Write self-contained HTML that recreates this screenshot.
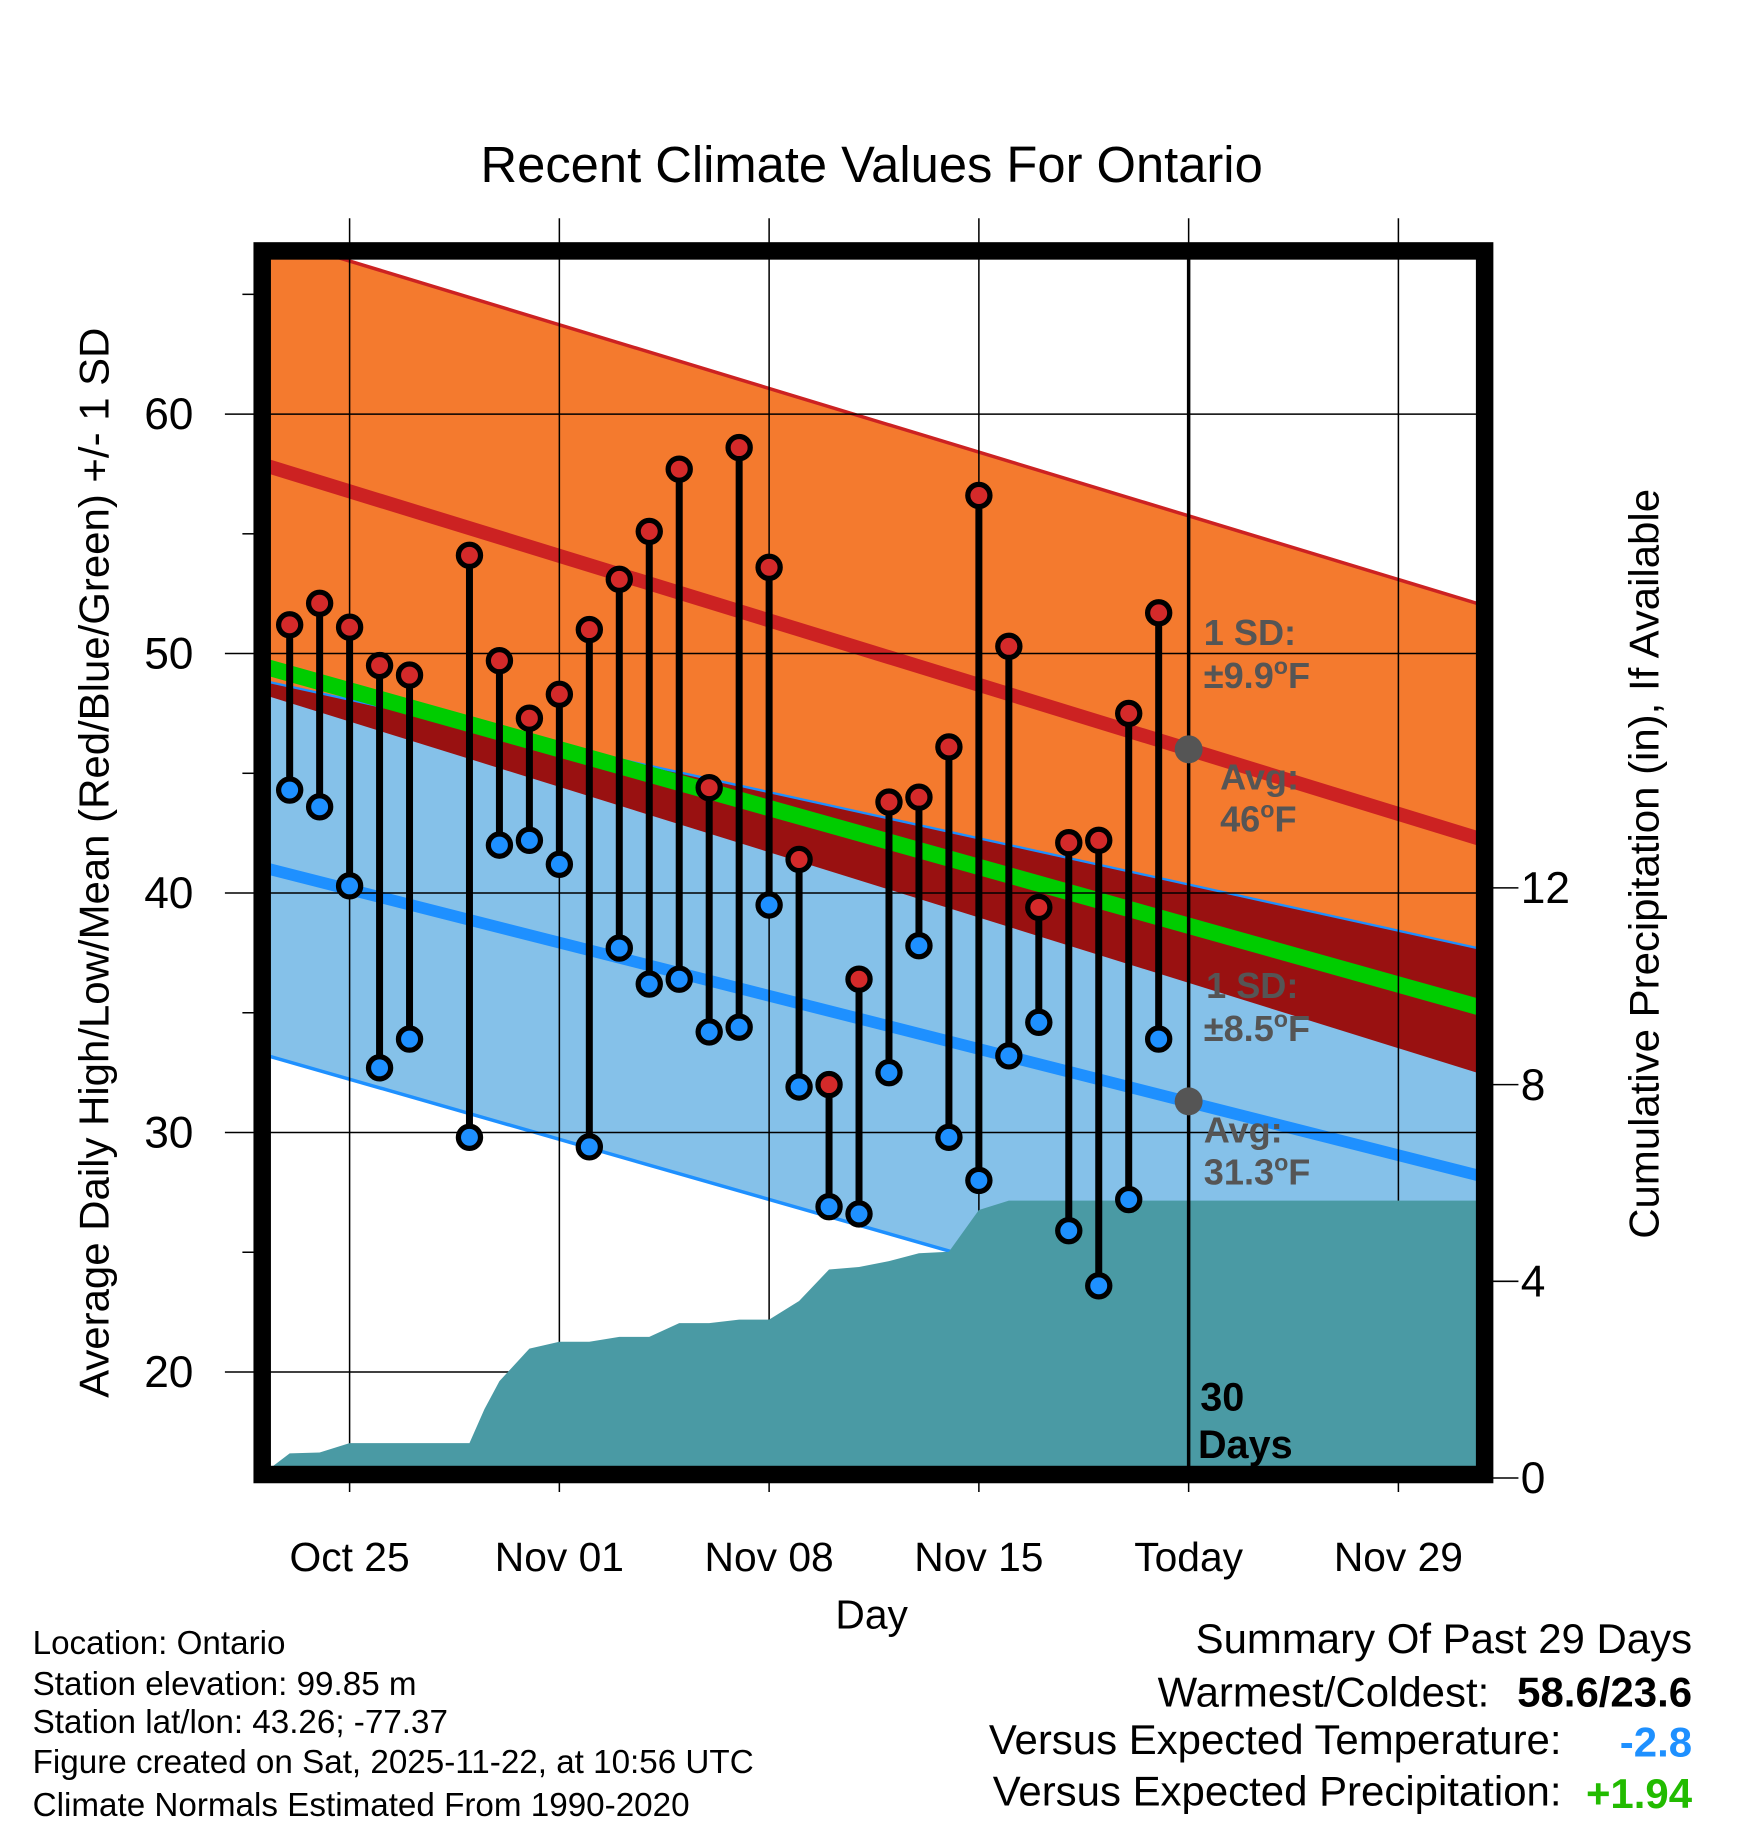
<!DOCTYPE html>
<html><head><meta charset="utf-8"><style>
html,body{margin:0;padding:0;background:#fff;}
svg{display:block;font-family:"Liberation Sans",sans-serif;}
</style></head><body>
<svg id="chart" width="1748" height="1828" viewBox="0 0 1500 1568" xmlns="http://www.w3.org/2000/svg">
<defs><clipPath id="plotclip"><rect x="232" y="222" width="1036" height="1038"/></clipPath></defs>
<text x="748" y="156" font-size="43.5" text-anchor="middle">Recent Climate Values For Ontario</text>
<g id="bands" clip-path="url(#plotclip)"></g>
<g id="grid"></g>
<g id="precip" clip-path="url(#plotclip)"></g>
<g id="marks"></g>
<g id="axes"></g>
<rect x="225" y="215" width="1049" height="1050" fill="none" stroke="#000" stroke-width="15"/>
<g font-weight="bold" font-size="31" fill="#555">
<text x="1033" y="553">1 SD:</text><text x="1033" y="590">±9.9<tspan dy="-12" font-size="20">o</tspan><tspan dy="12">F</tspan></text>
<text x="1047" y="677">Avg:</text><text x="1047" y="713">46<tspan dy="-12" font-size="20">o</tspan><tspan dy="12">F</tspan></text>
<text x="1035" y="856">1 SD:</text><text x="1033" y="893">±8.5<tspan dy="-12" font-size="20">o</tspan><tspan dy="12">F</tspan></text>
<text x="1033" y="980">Avg:</text><text x="1033" y="1016">31.3<tspan dy="-12" font-size="20">o</tspan><tspan dy="12">F</tspan></text>
<text x="1030" y="1210" fill="#000" font-size="34">30</text><text x="1028" y="1251" fill="#000" font-size="34">Days</text>
</g>
<text x="748" y="1397" font-size="35" text-anchor="middle">Day</text>
<text transform="translate(93,740) rotate(-90)" font-size="36" text-anchor="middle">Average Daily High/Low/Mean (Red/Blue/Green) +/- 1 SD</text>
<text transform="translate(1423,741) rotate(-90)" font-size="36" text-anchor="middle">Cumulative Precipitation (in), If Available</text>
<g font-size="28.5">
<text x="28" y="1419">Location: Ontario</text>
<text x="28" y="1454">Station elevation: 99.85 m</text>
<text x="28" y="1487">Station lat/lon: 43.26; -77.37</text>
<text x="28" y="1521">Figure created on Sat, 2025-11-22, at 10:56 UTC</text>
<text x="28" y="1558">Climate Normals Estimated From 1990-2020</text>
</g>
<g font-size="36" text-anchor="end">
<text x="1452" y="1418">Summary Of Past 29 Days</text>
<text x="1278" y="1464">Warmest/Coldest:</text><text x="1452" y="1464" font-weight="bold">58.6/23.6</text>
<text x="1340" y="1505">Versus Expected Temperature:</text><text x="1452" y="1507" font-weight="bold" fill="#1e90ff">-2.8</text>
<text x="1340" y="1549">Versus Expected Precipitation:</text><text x="1452" y="1551" font-weight="bold" fill="#22bb00">+1.94</text>
</g>
</svg>
<script>
// day index: 0 = Oct 25, 28 = Today (Nov 22)
const days = [-2,-1,0,1,2,4,5,6,7,8,9,10,11,12,13,14,15,16,17,18,19,20,21,22,23,24,25,26,27];
const highs = [51.2,52.1,51.1,49.5,49.1,54.1,49.7,47.3,48.3,51.0,53.1,55.1,57.7,44.4,58.6,53.6,41.4,32.0,36.4,43.8,44.0,46.1,56.6,50.3,39.4,42.1,42.2,47.5,51.7];
const lows = [44.3,43.6,40.3,32.7,33.9,29.8,42.0,42.2,41.2,29.4,37.7,36.2,36.4,34.2,34.4,39.5,31.9,26.9,26.6,32.5,37.8,29.8,28.0,33.2,34.6,25.9,23.6,27.2,33.9];
const precipDays = [-2.67,-2,-1,0,1,2,3,4,4.5,5,6,7,8,9,10,11,12,13,14,15,16,17,18,19,20,21,22,38];
const precipVals = [0.19,0.5,0.52,0.71,0.71,0.71,0.71,0.71,1.4,1.97,2.63,2.77,2.77,2.87,2.87,3.15,3.15,3.22,3.22,3.6,4.24,4.29,4.41,4.57,4.6,5.45,5.64,5.64];
const normDays = [-3,38];
const normHigh = [57.93,42.15];
const normHighSD = [9.6,9.8];
const normLow = [41.1,28.1];
const normLowSD = [7.8,9.5];
const xTickDays = [0,7,14,21,28,35];
const xTickLabels = ["Oct 25","Nov 01","Nov 08","Nov 15","Today","Nov 29"];
const yTicks = [20,30,40,50,60];
const yMinor = [25,35,45,55,65];
const pTicks = [0,4,8,12];
const todayDay = 28;
const todayHigh = 46, todayLow = 31.3;

const NS="http://www.w3.org/2000/svg";
const X = d => 300 + d*180/7;
const Y = v => 355 - (v-60)*20.55;
const P = p => 1268 - p*42.2;
function mk(tag, attrs, parent){const e=document.createElementNS(NS,tag);for(const k in attrs)e.setAttribute(k,attrs[k]);parent.appendChild(e);return e;}
const interp=(arr,d)=>arr[0]+(arr[1]-arr[0])*(d-normDays[0])/(normDays[1]-normDays[0]);
const bands=document.getElementById('bands'),grid=document.getElementById('grid'),prec=document.getElementById('precip'),marks=document.getElementById('marks'),axes=document.getElementById('axes');
const d0=normDays[0], d1=normDays[1];
const hiTop=d=>interp(normHigh,d)+interp(normHighSD,d), hiBot=d=>interp(normHigh,d)-interp(normHighSD,d);
const loTop=d=>interp(normLow,d)+interp(normLowSD,d), loBot=d=>interp(normLow,d)-interp(normLowSD,d);
const mean=d=>(interp(normHigh,d)+interp(normLow,d))/2;
function band(f,g,fill,name){const e=mk('polygon',{points:`${X(d0)},${Y(f(d0))} ${X(d1)},${Y(f(d1))} ${X(d1)},${Y(g(d1))} ${X(d0)},${Y(g(d0))}`,fill:fill},bands);

}
band(hiTop,hiBot,'#f47a2e','high-sd-band');
band(loTop,loBot,'#85c1e9','low-sd-band');
band(loTop,hiBot,'#991111','overlap-band');
function line(f,color,w,name){const e=mk('line',{x1:X(d0),y1:Y(f(d0)),x2:X(d1),y2:Y(f(d1)),stroke:color,'stroke-width':w},bands);

}
line(hiTop,'#cc2222',3,'high-sd-upper-line');
line(loTop,'#1e90ff',2,'low-sd-upper-line');
line(loBot,'#1e90ff',3,'low-sd-lower-line');
line(mean,'#00cc00',14,'normal-mean-line');
line(d=>interp(normHigh,d),'#cc2222',12,'normal-high-line');
line(d=>interp(normLow,d),'#1e90ff',10,'normal-low-line');
// grid
xTickDays.forEach((d,i)=>{const g=mk('line',{x1:X(d),y1:187,x2:X(d),y2:1280,stroke:'#000','stroke-width':1.3},grid);


const t=mk('text',{x:X(d),y:1348,'font-size':35,'text-anchor':'middle'},axes);t.textContent=xTickLabels[i];

});
yTicks.forEach(v=>{const g=mk('line',{x1:193,y1:Y(v),x2:1268,y2:Y(v),stroke:'#000','stroke-width':1.3},grid);


const t=mk('text',{x:166,y:Y(v)+13,'font-size':38,'text-anchor':'end'},axes);t.textContent=v;

});
yMinor.forEach(v=>{const g=mk('line',{x1:208,y1:Y(v),x2:220,y2:Y(v),stroke:'#000','stroke-width':1.3},grid);

});
pTicks.forEach(p=>{const g=mk('line',{x1:1278,y1:P(p),x2:1303,y2:P(p),stroke:'#000','stroke-width':1.3},axes);


const t=mk('text',{x:1305,y:P(p)+13,'font-size':38},axes);t.textContent=p;

});
// precip
let pts=precipDays.map((d,i)=>`${X(d)},${P(precipVals[i])}`);
pts.push(`${X(precipDays[precipDays.length-1])},1270`);pts.push(`${X(precipDays[0])},1270`);
const pa=mk('polygon',{points:pts.join(' '),fill:'#4a9aa4'},prec);


// today
const tl=mk('line',{x1:X(todayDay),y1:222,x2:X(todayDay),y2:1260,stroke:'#000','stroke-width':3},marks);


[todayHigh,todayLow].forEach(v=>{const c=mk('circle',{cx:X(todayDay),cy:Y(v),r:12,fill:'#555'},marks);

});
// stems and markers
days.forEach((d,i)=>{const s=mk('line',{x1:X(d),y1:Y(highs[i]),x2:X(d),y2:Y(lows[i]),stroke:'#000','stroke-width':6},marks);

});
days.forEach((d,i)=>{const h=mk('circle',{cx:X(d),cy:Y(highs[i]),r:9.5,fill:'#d42a2a',stroke:'#000','stroke-width':4.5},marks);


const l=mk('circle',{cx:X(d),cy:Y(lows[i]),r:9.5,fill:'#1e90ff',stroke:'#000','stroke-width':4.5},marks);

});
</script>
</body></html>
